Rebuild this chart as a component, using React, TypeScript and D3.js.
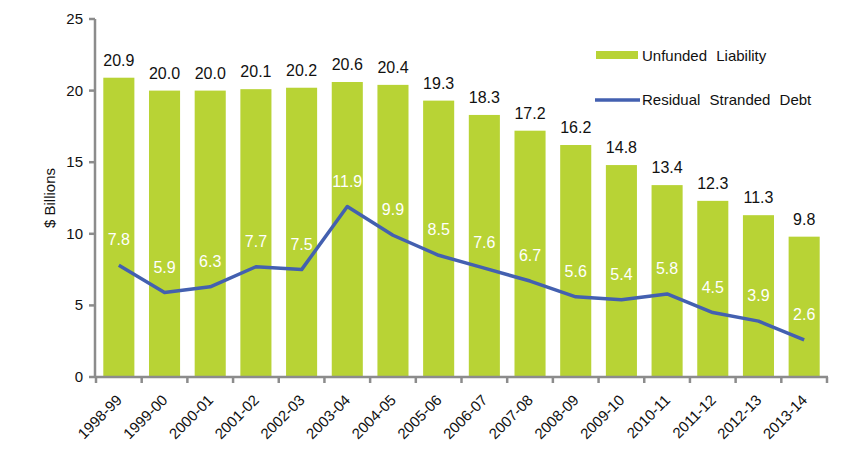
import React, {useEffect, useRef} from "react";
import * as d3 from "d3";

const years = [
	"1998-99", "1999-00", "2000-01", "2001-02", "2002-03", "2003-04", "2004-05", "2005-06",
	"2006-07", "2007-08", "2008-09", "2009-10", "2010-11", "2011-12", "2012-13", "2013-14",
];
const unfunded = [20.9, 20.0, 20.0, 20.1, 20.2, 20.6, 20.4, 19.3, 18.3, 17.2, 16.2, 14.8, 13.4, 12.3, 11.3, 9.8];
const strandedDebt = [7.8, 5.9, 6.3, 7.7, 7.5, 11.9, 9.9, 8.5, 7.6, 6.7, 5.6, 5.4, 5.8, 4.5, 3.9, 2.6];
const yTicks = [0, 5, 10, 15, 20, 25];

const WIDTH = 854;
const HEIGHT = 458;
const GREEN = "#b8d335";
const BLUE = "#4360b0";
const AXIS = "#8c8c8c";
const FONT = "'Liberation Sans', Arial, sans-serif";

const App: React.FC = () => {
	const svgRef = useRef<SVGSVGElement>(null);

	useEffect(() => {
		const svg = d3.select(svgRef.current);
		svg.selectAll("*").remove();

		const x = d3.scaleBand().domain(years).range([96, 827]).paddingInner(0.32).paddingOuter(0.16);
		const y = d3.scaleLinear().domain([0, 25]).range([377, 19]);
		const cx = (d: string) => (x(d) as number) + x.bandwidth() / 2;

		// Bars
		svg
			.append("g")
			.selectAll("rect")
			.data(years)
			.enter()
			.append("rect")
			.attr("x", (d) => x(d) as number)
			.attr("width", x.bandwidth())
			.attr("y", (_, i) => y(unfunded[i]))
			.attr("height", (_, i) => y(0) - y(unfunded[i]))
			.attr("fill", GREEN);

		// Bar value labels
		svg
			.append("g")
			.selectAll("text")
			.data(years)
			.enter()
			.append("text")
			.attr("x", cx)
			.attr("y", (_, i) => y(unfunded[i]) - 12)
			.attr("text-anchor", "middle")
			.style("font-family", FONT)
			.style("font-size", "16px")
			.style("fill", "#111")
			.text((_, i) => unfunded[i].toFixed(1));

		// Axes
		const axisG = svg.append("g").attr("stroke", AXIS).attr("stroke-width", 2.5);
		axisG.append("line").attr("x1", 95).attr("x2", 95).attr("y1", y(25)).attr("y2", y(0));
		axisG.append("line").attr("x1", 95).attr("x2", 828).attr("y1", y(0)).attr("y2", y(0));
		axisG
			.selectAll(".ytick")
			.data(yTicks)
			.enter()
			.append("line")
			.attr("x1", 89)
			.attr("x2", 95)
			.attr("y1", (d) => y(d))
			.attr("y2", (d) => y(d));
		const bounds = d3.range(years.length + 1).map((i) => 96 + i * x.step());
		axisG
			.selectAll(".xtick")
			.data(bounds)
			.enter()
			.append("line")
			.attr("x1", (d) => d)
			.attr("x2", (d) => d)
			.attr("y1", y(0))
			.attr("y2", y(0) + 6);

		svg
			.append("g")
			.selectAll("text")
			.data(yTicks)
			.enter()
			.append("text")
			.attr("x", 83)
			.attr("y", (d) => y(d) + 5)
			.attr("text-anchor", "end")
			.style("font-family", FONT)
			.style("font-size", "15px")
			.style("fill", "#111")
			.text((d) => d);

		svg
			.append("g")
			.selectAll("text")
			.data(years)
			.enter()
			.append("text")
			.attr("transform", (d) => `translate(${cx(d) + 4}, ${y(0) + 24}) rotate(-45)`)
			.attr("text-anchor", "end")
			.style("font-family", FONT)
			.style("font-size", "15px")
			.style("fill", "#111")
			.text((d) => d);

		svg
			.append("text")
			.attr("transform", `translate(55, ${(y(0) + y(25)) / 2}) rotate(-90)`)
			.attr("text-anchor", "middle")
			.style("font-family", FONT)
			.style("font-size", "15px")
			.style("fill", "#111")
			.text("$ Billions");

		// Line
		const line = d3
			.line<number>()
			.x((_, i) => cx(years[i]))
			.y((d) => y(d));
		svg
			.append("path")
			.datum(strandedDebt)
			.attr("d", line)
			.attr("fill", "none")
			.attr("stroke", BLUE)
			.attr("stroke-width", 3.5)
			.attr("stroke-linejoin", "round");

		svg
			.append("g")
			.selectAll("text")
			.data(strandedDebt)
			.enter()
			.append("text")
			.attr("x", (_, i) => cx(years[i]))
			.attr("y", (d) => y(d) - 20)
			.attr("text-anchor", "middle")
			.style("font-family", FONT)
			.style("font-size", "16px")
			.style("fill", "#fff")
			.text((d) => d.toFixed(1));

		// Legend
		const legend = svg.append("g").style("font-family", FONT).style("font-size", "15px");
		legend.append("rect").attr("x", 596).attr("y", 51).attr("width", 42).attr("height", 8).attr("fill", GREEN);
		legend
			.append("text")
			.attr("x", 642)
			.attr("y", 61)
			.style("word-spacing", "5px")
			.style("fill", "#111")
			.text("Unfunded Liability");
		legend
			.append("line")
			.attr("x1", 595)
			.attr("x2", 640)
			.attr("y1", 100)
			.attr("y2", 100)
			.attr("stroke", BLUE)
			.attr("stroke-width", 3.5);
		legend
			.append("text")
			.attr("x", 642)
			.attr("y", 105)
			.style("word-spacing", "5px")
			.style("fill", "#111")
			.text("Residual Stranded Debt");
	}, []);

	return (
		<svg
			ref={svgRef}
			width={WIDTH}
			height={HEIGHT}
			style={{position: "absolute", left: 0, top: 0, background: "#fff"}}
		/>
	);
};

export default App;
